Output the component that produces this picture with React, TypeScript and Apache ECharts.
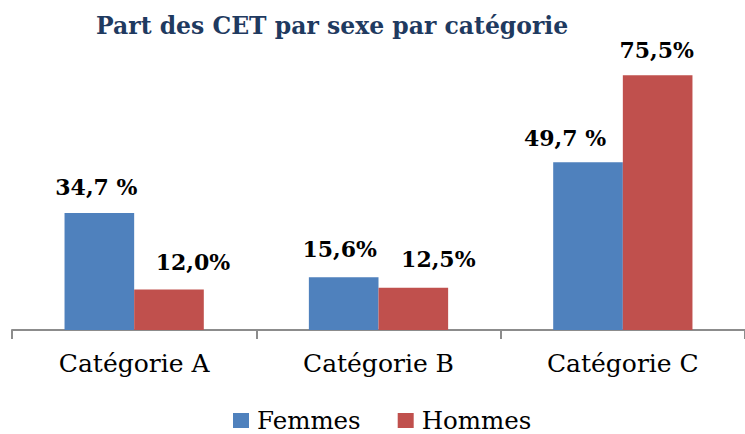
import React, { useEffect, useRef } from "react";
import * as echarts from "echarts";

const categories = ["Catégorie A", "Catégorie B", "Catégorie C"];
const femmesValues = [34.7, 15.6, 49.7];
const hommesValues = [12.0, 12.5, 75.5];
const femmesLabels = ["34,7 %", "15,6%", "49,7 %"];
const hommesLabels = ["12,0%", "12,5%", "75,5%"];
const seriesNames = ["Femmes", "Hommes"];
const titleText = "Part des CET par sexe par catégorie";

const femmesOffsets: [number, number][] = [[-3, -10], [-4, -12], [-23, -8]];
const hommesOffsets: [number, number][] = [[24, -12], [25, -13], [-1, -9]];

const labelFont = {
  fontFamily: "DejaVu Serif",
  fontWeight: "bold" as const,
  fontSize: 22,
  color: "#000000",
};

function buildData(values: number[], labels: string[], offsets: [number, number][]) {
  return values.map((v, i) => ({
    value: v,
    label: { formatter: labels[i], offset: offsets[i] },
  }));
}

export default function App() {
  const ref = useRef<HTMLDivElement>(null);
  useEffect(() => {
    if (!ref.current) return;
    const chart = echarts.init(ref.current, null, { renderer: "svg" });
    chart.setOption({
      animation: false,
      backgroundColor: "#ffffff",
      title: {
        text: titleText,
        left: 91,
        top: 9,
        textStyle: {
          fontFamily: "DejaVu Serif",
          fontWeight: "bold",
          fontSize: 23.5,
          color: "#1F3A60",
        },
      },
      legend: {
        data: seriesNames,
        left: 228,
        top: 403,
        itemWidth: 16,
        itemHeight: 15,
        itemGap: 37,
        icon: "rect",
        textStyle: {
          fontFamily: "DejaVu Serif",
          fontSize: 24.5,
          lineHeight: 24,
          color: "#000000",
          padding: [0, 0, 0, 3],
        },
      },
      grid: { left: 12, width: 744, top: 60, bottom: 104 },
      xAxis: {
        type: "category",
        data: categories,
        boundaryGap: true,
        axisLine: { lineStyle: { color: "#8C8C8C", width: 2 } },
        axisTick: { show: true, length: 9, lineStyle: { color: "#8C8C8C", width: 2 } },
        axisLabel: {
          margin: 21,
          fontFamily: "DejaVu Serif",
          fontSize: 25,
          color: "#000000",
        },
      },
      yAxis: {
        type: "value",
        min: 0,
        max: 80,
        show: false,
        splitLine: { show: false },
      },
      series: [
        {
          name: seriesNames[0],
          type: "bar",
          barGap: "0%",
          barCategoryGap: "43%",
          itemStyle: { color: "#4F81BD" },
          label: { show: true, position: "top", distance: 5, ...labelFont },
          data: buildData(femmesValues, femmesLabels, femmesOffsets),
        },
        {
          name: seriesNames[1],
          type: "bar",
          barGap: "0%",
          barCategoryGap: "43%",
          itemStyle: { color: "#C0504D" },
          label: { show: true, position: "top", distance: 5, ...labelFont },
          data: buildData(hommesValues, hommesLabels, hommesOffsets),
        },
      ],
    });
    return () => chart.dispose();
  }, []);
  return (
    <div
      ref={ref}
      style={{ position: "absolute", left: 0, top: 0, width: 745, height: 434 }}
    />
  );
}
